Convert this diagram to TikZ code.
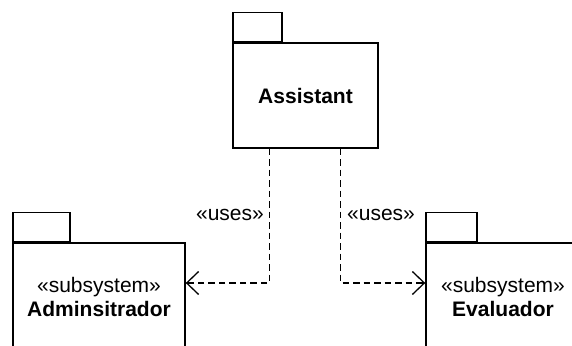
\documentclass[tikz,border=0pt]{standalone}
\usepackage{fontspec}
\setmainfont{Liberation Sans}
\usetikzlibrary{arrows.meta,positioning}
\begin{document}
\begin{tikzpicture}[x=1pt,y=-1pt,
  pkgbody/.style={draw,line width=1.4pt,fill=white,inner sep=0pt,align=center,font=\fontsize{21}{24}\selectfont},
  pkgtab/.style={draw,line width=1.4pt,fill=white,inner sep=0pt,minimum height=29pt,anchor=south west},
  dep/.style={line width=1.3pt,dash pattern=on 6.5pt off 4pt,-{Straight Barb[length=12pt,width=23pt,line width=1.3pt]}},
  lbl/.style={font=\fontsize{21}{24}\selectfont,inner sep=0pt}]
\useasboundingbox (0,0) rectangle (572,345);
\clip (0,0) rectangle (572,345);
% Assistant
\node[pkgbody,minimum width=145pt,minimum height=105pt] (asst) at (305.5,95.5) {\textbf{Assistant}};
\node[pkgtab,minimum width=49pt] (asstTab) at (asst.north west) {};
% Adminsitrador
\node[pkgbody,minimum width=172pt,minimum height=107pt] (admin) at (99,296.5) {«subsystem»\\\textbf{Adminsitrador}};
\node[pkgtab,minimum width=57pt] (adminTab) at (admin.north west) {};
% Evaluador
\node[pkgbody,minimum width=154pt,minimum height=107pt] (eval) at (503,296.5) {«subsystem»\\\textbf{Evaluador}};
\node[pkgtab,minimum width=51pt] (evalTab) at (eval.north west) {};
% connectors
\draw[dep] ([xshift=37pt]asst.south west) |- ([yshift=13.5pt]admin.east);
\draw[dep] ([xshift=108pt]asst.south west) |- ([yshift=13.5pt]eval.west);
% labels
\node[lbl,anchor=east] (l1) at (264,215) {«uses»};
\node[lbl,anchor=west] (l2) at (347,215) {«uses»};
\end{tikzpicture}
\end{document}
